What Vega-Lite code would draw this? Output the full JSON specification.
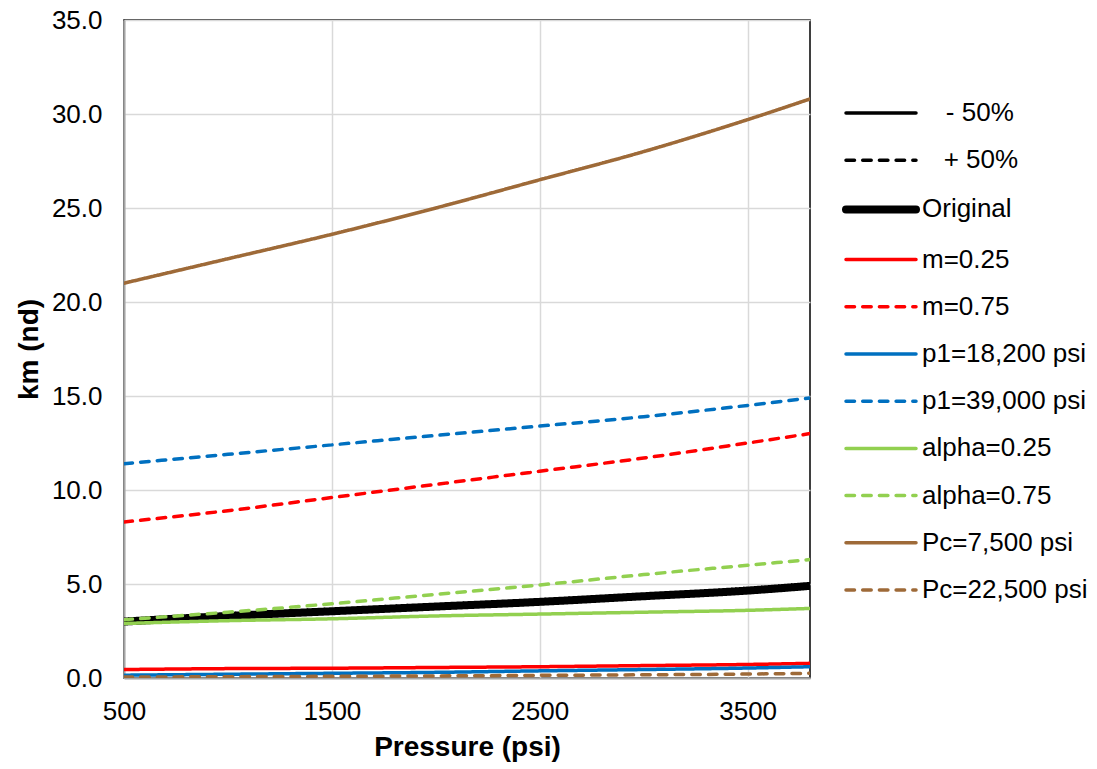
{
  "$schema": "https://vega.github.io/schema/vega-lite/v6.json",
  "width": 686,
  "height": 658,
  "autosize": {"type": "none"},
  "padding": {"left": 124, "top": 20, "right": 287, "bottom": 91},
  "background": "white",
  "config": {
    "font": "Liberation Sans",
    "view": {"stroke": "black", "strokeWidth": 1.5}
  },
  "data": {
    "values": [
      {"series": "Original", "p": 500, "km": 3.0},
      {"series": "Original", "p": 1000, "km": 3.3},
      {"series": "Original", "p": 1500, "km": 3.55},
      {"series": "Original", "p": 2000, "km": 3.8},
      {"series": "Original", "p": 2500, "km": 4.05},
      {"series": "Original", "p": 3000, "km": 4.35},
      {"series": "Original", "p": 3500, "km": 4.65},
      {"series": "Original", "p": 3800, "km": 4.9},
      {"series": "m=0.25", "p": 500, "km": 0.45},
      {"series": "m=0.25", "p": 1000, "km": 0.5},
      {"series": "m=0.25", "p": 1500, "km": 0.52},
      {"series": "m=0.25", "p": 2000, "km": 0.56},
      {"series": "m=0.25", "p": 2500, "km": 0.6},
      {"series": "m=0.25", "p": 3000, "km": 0.66},
      {"series": "m=0.25", "p": 3500, "km": 0.72},
      {"series": "m=0.25", "p": 3800, "km": 0.78},
      {"series": "m=0.75", "p": 500, "km": 8.3},
      {"series": "m=0.75", "p": 1000, "km": 8.9},
      {"series": "m=0.75", "p": 1500, "km": 9.6},
      {"series": "m=0.75", "p": 2000, "km": 10.3},
      {"series": "m=0.75", "p": 2500, "km": 11.0},
      {"series": "m=0.75", "p": 3000, "km": 11.7},
      {"series": "m=0.75", "p": 3500, "km": 12.5},
      {"series": "m=0.75", "p": 3800, "km": 13.0},
      {"series": "p1=18,200 psi", "p": 500, "km": 0.15},
      {"series": "p1=18,200 psi", "p": 1000, "km": 0.2},
      {"series": "p1=18,200 psi", "p": 1500, "km": 0.25},
      {"series": "p1=18,200 psi", "p": 2000, "km": 0.3},
      {"series": "p1=18,200 psi", "p": 2500, "km": 0.38},
      {"series": "p1=18,200 psi", "p": 3000, "km": 0.45},
      {"series": "p1=18,200 psi", "p": 3500, "km": 0.53},
      {"series": "p1=18,200 psi", "p": 3800, "km": 0.6},
      {"series": "p1=39,000 psi", "p": 500, "km": 11.4},
      {"series": "p1=39,000 psi", "p": 1000, "km": 11.9},
      {"series": "p1=39,000 psi", "p": 1500, "km": 12.4},
      {"series": "p1=39,000 psi", "p": 2000, "km": 12.9},
      {"series": "p1=39,000 psi", "p": 2500, "km": 13.4},
      {"series": "p1=39,000 psi", "p": 3000, "km": 13.9},
      {"series": "p1=39,000 psi", "p": 3500, "km": 14.5},
      {"series": "p1=39,000 psi", "p": 3800, "km": 14.9},
      {"series": "alpha=0.25", "p": 500, "km": 2.9},
      {"series": "alpha=0.25", "p": 1000, "km": 3.05},
      {"series": "alpha=0.25", "p": 1500, "km": 3.15},
      {"series": "alpha=0.25", "p": 2000, "km": 3.3},
      {"series": "alpha=0.25", "p": 2500, "km": 3.4},
      {"series": "alpha=0.25", "p": 3000, "km": 3.5},
      {"series": "alpha=0.25", "p": 3500, "km": 3.6},
      {"series": "alpha=0.25", "p": 3800, "km": 3.7},
      {"series": "alpha=0.75", "p": 500, "km": 3.1},
      {"series": "alpha=0.75", "p": 1000, "km": 3.5},
      {"series": "alpha=0.75", "p": 1500, "km": 3.95},
      {"series": "alpha=0.75", "p": 2000, "km": 4.45},
      {"series": "alpha=0.75", "p": 2500, "km": 4.95},
      {"series": "alpha=0.75", "p": 3000, "km": 5.5},
      {"series": "alpha=0.75", "p": 3500, "km": 6.0},
      {"series": "alpha=0.75", "p": 3800, "km": 6.3},
      {"series": "Pc=7,500 psi", "p": 500, "km": 21.0},
      {"series": "Pc=7,500 psi", "p": 1000, "km": 22.3},
      {"series": "Pc=7,500 psi", "p": 1500, "km": 23.6},
      {"series": "Pc=7,500 psi", "p": 2000, "km": 25.0},
      {"series": "Pc=7,500 psi", "p": 2500, "km": 26.5},
      {"series": "Pc=7,500 psi", "p": 3000, "km": 28.0},
      {"series": "Pc=7,500 psi", "p": 3500, "km": 29.7},
      {"series": "Pc=7,500 psi", "p": 3800, "km": 30.8},
      {"series": "Pc=22,500 psi", "p": 500, "km": 0.05},
      {"series": "Pc=22,500 psi", "p": 1000, "km": 0.07},
      {"series": "Pc=22,500 psi", "p": 1500, "km": 0.09},
      {"series": "Pc=22,500 psi", "p": 2000, "km": 0.11},
      {"series": "Pc=22,500 psi", "p": 2500, "km": 0.14},
      {"series": "Pc=22,500 psi", "p": 3000, "km": 0.17},
      {"series": "Pc=22,500 psi", "p": 3500, "km": 0.21},
      {"series": "Pc=22,500 psi", "p": 3800, "km": 0.25}
    ]
  },
  "mark": {"type": "line", "clip": true, "interpolate": "monotone", "strokeCap": "round"},
  "encoding": {
    "x": {
      "field": "p", "type": "quantitative",
      "scale": {"domain": [500, 3800], "nice": false, "zero": false},
      "axis": {
        "title": "Pressure (psi)", "values": [500, 1500, 2500, 3500], "format": "d",
        "ticks": false, "labelFontSize": 26, "labelColor": "#000000", "labelPadding": 20,
        "labelFlush": false,
        "titleFontSize": 28, "titleFontWeight": "bold", "titleColor": "#000000", "titlePadding": 9,
        "domainColor": "#a6a6a6", "domainWidth": 2,
        "gridColor": "#d9d9d9", "gridWidth": 1.5
      }
    },
    "y": {
      "field": "km", "type": "quantitative",
      "scale": {"domain": [0, 35], "nice": false},
      "axis": {
        "title": "km (nd)", "values": [0, 5, 10, 15, 20, 25, 30, 35], "format": ".1f",
        "ticks": false, "labelFontSize": 26, "labelColor": "#000000", "labelPadding": 22,
        "titleFontSize": 28, "titleFontWeight": "bold", "titleColor": "#000000", "titlePadding": 8,
        "domainColor": "#a6a6a6", "domainWidth": 2,
        "gridColor": "#d9d9d9", "gridWidth": 1.5
      }
    },
    "color": {
      "field": "series", "type": "nominal",
      "scale": {
        "domain": ["\u200b\u00a0\u00a0\u00a0\u200a- 50%", "\u200b\u00a0\u00a0\u00a0+ 50%", "Original", "m=0.25", "m=0.75", "p1=18,200 psi", "p1=39,000 psi", "alpha=0.25", "alpha=0.75", "Pc=7,500 psi", "Pc=22,500 psi"],
        "range": ["#000000", "#000000", "#000000", "#ff0000", "#ff0000", "#0070c0", "#0070c0", "#92d050", "#92d050", "#9e6a38", "#9e6a38"]
      },
      "legend": {
        "title": null, "orient": "none", "legendX": 733, "legendY": 71,
        "symbolType": "M-1.75,0H1.75", "symbolSize": 1600,
        "labelFontSize": 26, "labelColor": "#000000",
        "labelLimit": 300, "rowPadding": 12.2, "labelOffset": 17,
        "encode": {"symbols": {"update": {"strokeCap": {"value": "round"}, "fill": {"value": "transparent"}}}}
      }
    },
    "strokeDash": {
      "field": "series", "type": "nominal",
      "scale": {
        "domain": ["\u200b\u00a0\u00a0\u00a0\u200a- 50%", "\u200b\u00a0\u00a0\u00a0+ 50%", "Original", "m=0.25", "m=0.75", "p1=18,200 psi", "p1=39,000 psi", "alpha=0.25", "alpha=0.75", "Pc=7,500 psi", "Pc=22,500 psi"],
        "range": [[1, 0], [8.5, 8.2], [1, 0], [1, 0], [8.5, 8.2], [1, 0], [8.5, 8.2], [1, 0], [8.5, 8.2], [1, 0], [8.5, 8.2]]
      },
      "legend": null
    },
    "strokeWidth": {
      "field": "series", "type": "nominal",
      "scale": {
        "type": "ordinal",
        "domain": ["\u200b\u00a0\u00a0\u00a0\u200a- 50%", "\u200b\u00a0\u00a0\u00a0+ 50%", "Original", "m=0.25", "m=0.75", "p1=18,200 psi", "p1=39,000 psi", "alpha=0.25", "alpha=0.75", "Pc=7,500 psi", "Pc=22,500 psi"],
        "range": [3.5, 3.5, 8, 3.5, 3.5, 3.5, 3.5, 3.5, 3.5, 3.5, 3.5]
      },
      "legend": null
    }
  }
}
